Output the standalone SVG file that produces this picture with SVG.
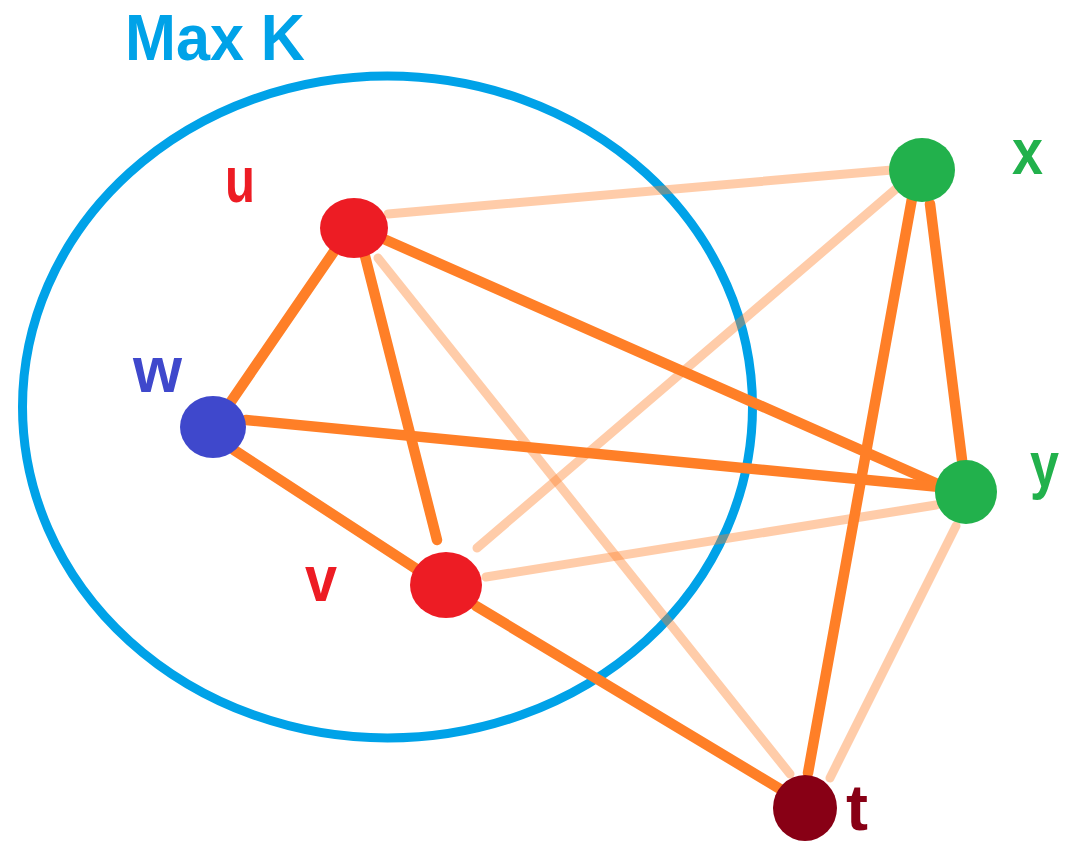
<svg xmlns="http://www.w3.org/2000/svg" width="1067" height="843" viewBox="0 0 1067 843">
<style>
.lbl{font-family:"Liberation Sans",Arial,sans-serif;font-weight:bold;font-size:64px}
.strong{stroke:#ff7f27;stroke-width:10.5;stroke-linecap:round;fill:none}
.light{stroke:#ff7f27;stroke-opacity:0.4;stroke-width:9;stroke-linecap:round;fill:none}
</style>
<rect width="1067" height="843" fill="#fff"/>
<g id="maxk">
<ellipse cx="387.5" cy="407" rx="365" ry="331" fill="none" stroke="#00a2e8" stroke-width="9"/>
<text x="125" y="60" class="lbl" font-size="65" fill="#00a2e8" textLength="180" lengthAdjust="spacingAndGlyphs">Max K</text>
</g>
<g id="connectors">
<line class="light" x1="388" y1="214" x2="892" y2="170"/>
<line class="light" x1="378" y1="258" x2="790" y2="774"/>
<line class="light" x1="477" y1="548" x2="897" y2="188"/>
<line class="light" x1="486" y1="577" x2="936" y2="505"/>
<line class="light" x1="956" y1="526" x2="830" y2="778"/>
<line class="strong" x1="335" y1="250" x2="230" y2="403"/>
<line class="strong" x1="365" y1="256" x2="437" y2="540"/>
<line class="strong" x1="386" y1="240" x2="940" y2="485"/>
<line class="strong" x1="246" y1="420" x2="940" y2="487"/>
<line class="strong" x1="234" y1="450" x2="418" y2="570"/>
<line class="strong" x1="476" y1="606" x2="790" y2="795"/>
<line class="strong" x1="915" y1="182" x2="808" y2="773"/>
<line class="strong" x1="930" y1="204" x2="962" y2="460"/>
</g>
<g id="node-u">
<ellipse cx="354" cy="228" rx="34" ry="30" fill="#ed1c24"/>
<text x="225" y="202" class="lbl" fill="#ed1c24" textLength="30" lengthAdjust="spacingAndGlyphs">u</text>
</g>
<g id="node-w">
<ellipse cx="213" cy="427" rx="33" ry="31" fill="#3f48cc"/>
<text x="133" y="392" class="lbl" fill="#3f48cc" textLength="49" lengthAdjust="spacingAndGlyphs">w</text>
</g>
<g id="node-v">
<ellipse cx="446" cy="585" rx="36" ry="33" fill="#ed1c24"/>
<text x="305" y="601" class="lbl" fill="#ed1c24" textLength="32" lengthAdjust="spacingAndGlyphs">v</text>
</g>
<g id="node-x">
<ellipse cx="922" cy="170" rx="33" ry="32" fill="#22b14c"/>
<text x="1012" y="174" class="lbl" fill="#22b14c" textLength="31" lengthAdjust="spacingAndGlyphs">x</text>
</g>
<g id="node-y">
<ellipse cx="966" cy="492" rx="31" ry="32" fill="#22b14c"/>
<text x="1030" y="487" class="lbl" fill="#22b14c" textLength="29" lengthAdjust="spacingAndGlyphs">y</text>
</g>
<g id="node-t">
<ellipse cx="805" cy="808" rx="32" ry="33" fill="#880015"/>
<text x="846" y="830" class="lbl" fill="#880015" textLength="22" lengthAdjust="spacingAndGlyphs">t</text>
</g>
</svg>
